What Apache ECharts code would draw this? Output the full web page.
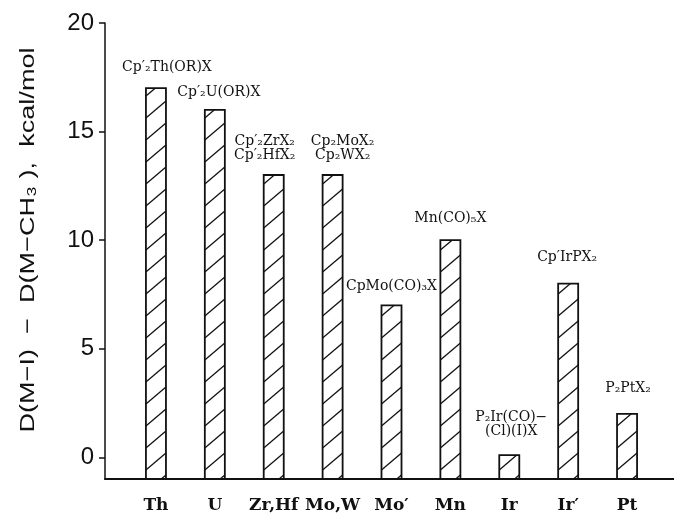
<!DOCTYPE html>
<html><head><meta charset="utf-8">
<script src="https://cdn.jsdelivr.net/npm/echarts@6/dist/echarts.min.js"></script>
<style>html,body{margin:0;background:#fff}#chart{width:674px;height:515px}</style>
</head><body><div id="chart"></div>
<script>
// Metal centres and D(M–I) − D(M–CH3) differences, kcal/mol
const categories = ['Th', 'U', 'Zr,Hf', 'Mo,W', 'Mo\u2032', 'Mn', 'Ir', 'Ir\u2032', 'Pt'];
const values = [17, 16, 13, 13, 7, 10, 0.1, 8, 2];
const compounds = [
  'Cp\u2032\u2082Th(OR)X',
  'Cp\u2032\u2082U(OR)X',
  'Cp\u2032\u2082ZrX\u2082\nCp\u2032\u2082HfX\u2082',
  'Cp\u2082MoX\u2082\nCp\u2082WX\u2082',
  'CpMo(CO)\u2083X',
  'Mn(CO)\u2085X',
  'P\u2082Ir(CO)\u2212\n(Cl)(I)X',
  'Cp\u2032IrPX\u2082',
  'P\u2082PtX\u2082'
];
const yTicks = [0, 5, 10, 15, 20];
const yMin = -1, yMax = 20;

// compound label placement relative to the bar top: [x shift, gap above]
const labelShift = [[11, 14], [4, 10], [-9, 13], [10, 13], [0, 12], [0, 15], [2, 17], [-1, 19], [1, 18]];

const chart = echarts.init(document.getElementById('chart'), null, { renderer: 'canvas' });

function renderBar(params, api) {
  const idx = params.dataIndex;
  const top = api.coord([api.value(0), api.value(1)]);
  const base = api.coord([api.value(0), yMin]);
  const w = api.size([1, 0])[0] * 0.34;
  const x0 = top[0] - w / 2, x1 = top[0] + w / 2, yT = top[1], yB = base[1];
  const children = [{
    type: 'rect', shape: { x: x0, y: yT, width: w, height: yB - yT },
    style: { fill: '#fff', stroke: null }
  }];
  // diagonal hatching "/" inside the bar: lines y = c - k·x
  const s = 22, k = 0.85;
  for (let c = k * x1 + yB - 4; c > k * x0 + yT; c -= s) {
    const xa = Math.max(x0, (c - yB) / k), xb = Math.min(x1, (c - yT) / k);
    if (xb > xa + 0.5) {
      children.push({ type: 'line', shape: { x1: xa, y1: c - k * xa, x2: xb, y2: c - k * xb },
        style: { stroke: '#111', lineWidth: 1.3 } });
    }
  }
  children.push({
    type: 'rect', shape: { x: x0, y: yT, width: w, height: yB - yT },
    style: { fill: null, stroke: '#111', lineWidth: 1.8 }
  });
  const sh = labelShift[idx];
  children.push({
    type: 'text',
    style: {
      text: compounds[idx], x: top[0] + sh[0], y: yT - sh[1],
      align: 'center', verticalAlign: 'bottom',
      font: '14px "DejaVu Serif"', fill: '#111', lineHeight: 14
    }
  });
  return { type: 'group', children };
}

chart.setOption({
  animation: false,
  backgroundColor: '#fff',
  grid: [
    { left: 105, right: 0, top: 23, bottom: 36 },
    { left: 126.5, width: 530, top: 23, bottom: 36 }
  ],
  xAxis: [
    { type: 'value', gridIndex: 0, min: 0, max: 1, splitLine: { show: false },
      axisTick: { show: false }, axisLabel: { show: false },
      axisLine: { show: true, onZero: false, lineStyle: { color: '#111', width: 2 } } },
    { type: 'category', gridIndex: 1, data: categories,
      axisLine: { show: false }, axisTick: { show: false },
      axisLabel: { interval: 0, margin: 18, color: '#111', fontFamily: 'DejaVu Serif', fontWeight: 'bold', fontSize: 17 } }
  ],
  yAxis: [
    { type: 'value', gridIndex: 0, min: yMin, max: yMax, splitLine: { show: false },
      axisLine: { show: true, onZero: false, lineStyle: { color: '#111', width: 1.5 } },
      axisTick: { show: true, length: 6, customValues: yTicks, lineStyle: { color: '#111', width: 1.5 } },
      axisLabel: { customValues: yTicks, margin: 11, color: '#111', fontFamily: 'Liberation Sans', fontSize: 24 } },
    { type: 'value', gridIndex: 1, min: yMin, max: yMax, show: false }
  ],
  graphic: [{
    type: 'text', x: 28, y: 240, rotation: Math.PI / 2, scaleX: 1.29,
    style: {
      text: 'D(M\u2212I)  \u2212  D(M\u2212CH\u2083 ),  kcal/mol',
      font: '21px "Liberation Sans"', fill: '#111', align: 'center', verticalAlign: 'middle'
    }
  }],
  series: [{
    type: 'custom', xAxisIndex: 1, yAxisIndex: 1,
    data: values.map((v, i) => [i, v]),
    encode: { x: 0, y: 1 },
    renderItem: renderBar,
    clip: false
  }]
});
</script>
</body></html>
